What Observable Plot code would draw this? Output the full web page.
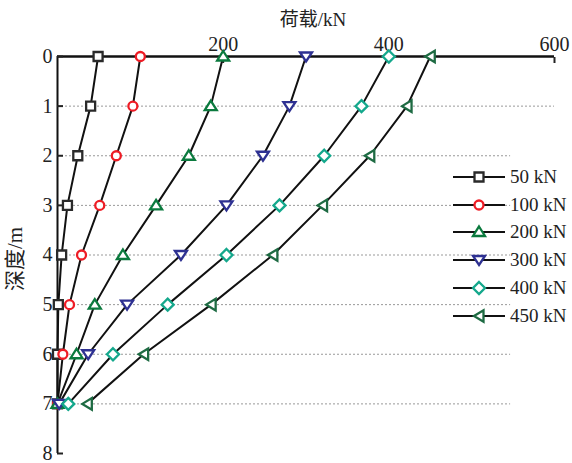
<!DOCTYPE html>
<html>
<head>
<meta charset="utf-8">
<script src="https://cdn.jsdelivr.net/npm/d3@7"></script>
<script src="https://cdn.jsdelivr.net/npm/@observablehq/plot@0.6"></script>
<style>
  html, body { margin: 0; padding: 0; background: #fff; }
  #wrap { position: relative; width: 572px; height: 463px; }
  #legend { position: absolute; left: 453px; top: 163px; font-family: "Liberation Serif", "Noto Sans CJK SC", serif; font-size: 19px; color: #222; }
  .row { display: flex; align-items: center; height: 27.8px; }
  .row span { margin-left: 5px; }
</style>
</head>
<body>
<div id="wrap"><div id="legend"></div></div>
<script>
const depths = [0, 1, 2, 3, 4, 5, 6, 7];
const loads = ["50 kN", "100 kN", "200 kN", "300 kN", "400 kN", "450 kN"];
const s50  = [49, 40, 24.5, 12, 5, 1, 0, 0];
const s100 = [100, 91, 71, 51, 29, 14.5, 6.5, 0];
const s200 = [200, 185, 158.5, 119, 79, 45, 23, 0];
const s300 = [300, 280, 248, 204, 149, 84, 37, 2];
const s400 = [400, 367, 322, 268, 204, 133, 67, 13];
const s450 = [450, 422, 377, 320, 260, 185.5, 104, 36];
const seriesValues = [s50, s100, s200, s300, s400, s450];
const colors = ["#2a2a2a", "#ee1c25", "#0b7a3e", "#2e3192", "#14a88c", "#1e6b43"];
const xTicks = [200, 400, 600];
const yTicks = [0, 1, 2, 3, 4, 5, 6, 7, 8];
const gridDepths = [1, 2, 3, 4, 5, 6, 7];

function poly(pts) {
  return {
    draw(ctx, size) {
      const k = Math.sqrt(size / Math.PI) / 4.5;
      ctx.moveTo(pts[0][0] * k, pts[0][1] * k);
      for (let i = 1; i < pts.length; i++) ctx.lineTo(pts[i][0] * k, pts[i][1] * k);
      ctx.closePath();
    }
  };
}
const circleSym = { draw(ctx, size) { const r = Math.sqrt(size / Math.PI); ctx.moveTo(r, 0); ctx.arc(0, 0, r, 0, 2 * Math.PI); } };
const symbols = [
  poly([[-4.5, -4.5], [4.5, -4.5], [4.5, 4.5], [-4.5, 4.5]]),
  circleSym,
  poly([[0, -5.5], [6, 4], [-6, 4]]),
  poly([[0, 5], [6, -4], [-6, -4]]),
  poly([[0, -6], [6, 0], [0, 6], [-6, 0]]),
  poly([[-5, 0], [4.5, -5.8], [4.5, 5.8]])
];

const data = [];
loads.forEach((name, i) => {
  depths.forEach((d, j) => data.push({ series: name, idx: i, depth: d, load: seriesValues[i][j] }));
});

const font = `"Liberation Serif", "Noto Sans CJK SC", serif`;

const chart = Plot.plot({
  width: 572,
  height: 463,
  marginLeft: 57,
  marginRight: 18,
  marginTop: 56,
  marginBottom: 10,
  style: { fontFamily: font, fontSize: "20px", color: "#222", background: "white", overflow: "visible" },
  x: { domain: [0, 600] },
  y: { domain: [0, 8], reverse: true },
  marks: [
    Plot.ruleY(gridDepths, { x1: 0, x2: d => d === 1 ? 600 : 547, stroke: "#999", strokeDasharray: "2,2", strokeWidth: 1 }),
    Plot.lineX(data, { x: "load", y: "depth", z: "series", stroke: "#111", strokeWidth: 2 }),
    Plot.ruleY([0], { stroke: "#111", strokeWidth: 2.5 }),
    Plot.ruleX([0], { stroke: "#111", strokeWidth: 2 }),
    Plot.axisX({ anchor: "top", ticks: xTicks, tickSize: -6, tickPadding: 12, strokeWidth: 2, label: null, fontSize: 20 }),
    Plot.axisY({ anchor: "left", ticks: yTicks, tickSize: -6, tickPadding: 11, strokeWidth: 2, label: null, fontSize: 20 }),
    ...loads.map((name, i) => Plot.dot(data.filter(d => d.idx === i), {
      x: "load", y: "depth", symbol: () => symbols[i], r: 4.5,
      stroke: colors[i], fill: "white", strokeWidth: 2.3
    })),
    Plot.text(["荷载/kN"], { frameAnchor: "top", dy: -31, dx: 7, fontSize: 19, lineAnchor: "bottom", fill: "#222" }),
    Plot.text(["深度/m"], { frameAnchor: "left", textAnchor: "middle", dx: -42, dy: 4, rotate: -90, fontSize: 21, fill: "#222" })
  ]
});
document.getElementById("wrap").prepend(chart);

// legend
const legend = document.getElementById("legend");
loads.forEach((name, i) => {
  const row = document.createElement("div");
  row.className = "row";
  const svg = d3.create("svg").attr("width", 52).attr("height", 16);
  svg.append("line").attr("x1", 0).attr("x2", 52).attr("y1", 8).attr("y2", 8).attr("stroke", "#111").attr("stroke-width", 2);
  const path = d3.path();
  symbols[i].draw(path, Math.PI * 4.5 * 4.5);
  svg.append("path").attr("d", path.toString()).attr("transform", "translate(26,8)")
    .attr("fill", "white").attr("stroke", colors[i]).attr("stroke-width", 2.3);
  row.appendChild(svg.node());
  const t = document.createElement("span");
  t.textContent = name;
  row.appendChild(t);
  legend.appendChild(row);
});
</script>
</body>
</html>
